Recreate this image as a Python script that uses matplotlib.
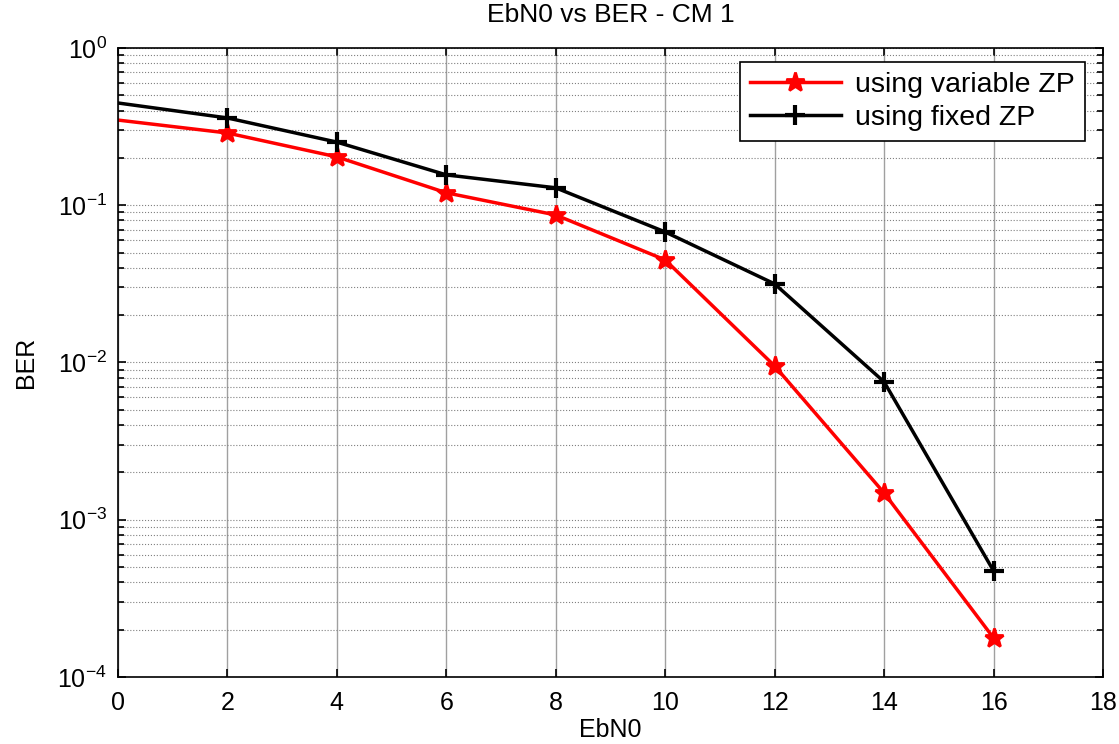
import matplotlib
matplotlib.use("Agg")
import matplotlib.pyplot as plt
from matplotlib.ticker import LogLocator, NullFormatter, FuncFormatter
import numpy as np

plt.rcParams["font.family"] = ["Liberation Sans", "DejaVu Sans"]
plt.rcParams["mathtext.fontset"] = "custom"
plt.rcParams["mathtext.rm"] = "Liberation Sans"
plt.rcParams["mathtext.default"] = "regular"

# EbN0 (dB) и BER для двух вариантов
ebn0 = [0, 2, 4, 6, 8, 10, 12, 14, 16]
ber_variable = [0.348, 0.288, 0.203, 0.120, 0.0867, 0.0449, 0.0095, 0.00148, 0.000177]
ber_fixed = [0.447, 0.359, 0.252, 0.156, 0.129, 0.0676, 0.0316, 0.00753, 0.000473]


def pow10_label(v, pos):
    n = int(round(np.log10(v)))
    return f"$10^{{{n}}}$"


fig = plt.figure(figsize=(11.19, 7.44), dpi=100)
ax = fig.add_axes([0.1054, 0.0901, 0.8803, 0.8454])

ax.semilogy(ebn0, ber_variable, color="red", lw=2.5, marker="*", ms=14,
            mew=2, markevery=slice(1, None), label="using variable ZP")
ax.semilogy(ebn0, ber_fixed, color="black", lw=2.5, marker="+", ms=15,
            mew=3, markevery=slice(1, None), label="using fixed ZP")

ax.set_xlim(0, 18)
ax.set_ylim(1e-4, 1e0)
ax.set_xticks(range(0, 19, 2))
ax.yaxis.set_major_locator(LogLocator(base=10, numticks=10))
ax.yaxis.set_major_formatter(FuncFormatter(pow10_label))
ax.yaxis.set_minor_locator(LogLocator(base=10, subs=range(2, 10), numticks=50))
ax.yaxis.set_minor_formatter(NullFormatter())

# сетка в стиле MATLAB
ax.grid(True, which="major", axis="x", color="#a0a0a0", lw=1, ls="-")
ax.grid(True, which="major", axis="y", color="#808080", lw=0.8, ls=":")
ax.grid(True, which="minor", axis="y", color="#808080", lw=0.8, ls=":")

ax.tick_params(which="both", direction="in", top=True, right=True,
               labelsize=18, length=6, width=1.2)
ax.tick_params(which="minor", length=4)
ax.tick_params(axis="x", pad=10)
ax.tick_params(axis="y", pad=8)
for s in ax.spines.values():
    s.set_linewidth(1.2)

ax.set_xlabel("EbN0", fontsize=18, labelpad=2)
ax.set_ylabel("BER", fontsize=18, labelpad=14)
ax.set_title("EbN0 vs BER - CM 1", fontsize=19, pad=19)

leg = ax.legend(loc="upper right", bbox_to_anchor=(0.9817, 0.9777),
                fontsize=20.5, fancybox=False, framealpha=1, edgecolor="black",
                borderaxespad=0, handlelength=3.2, handletextpad=0.5,
                borderpad=0.35, labelspacing=0.25)
leg.get_frame().set_linewidth(1.2)

fig.savefig("out.png", dpi=100)
